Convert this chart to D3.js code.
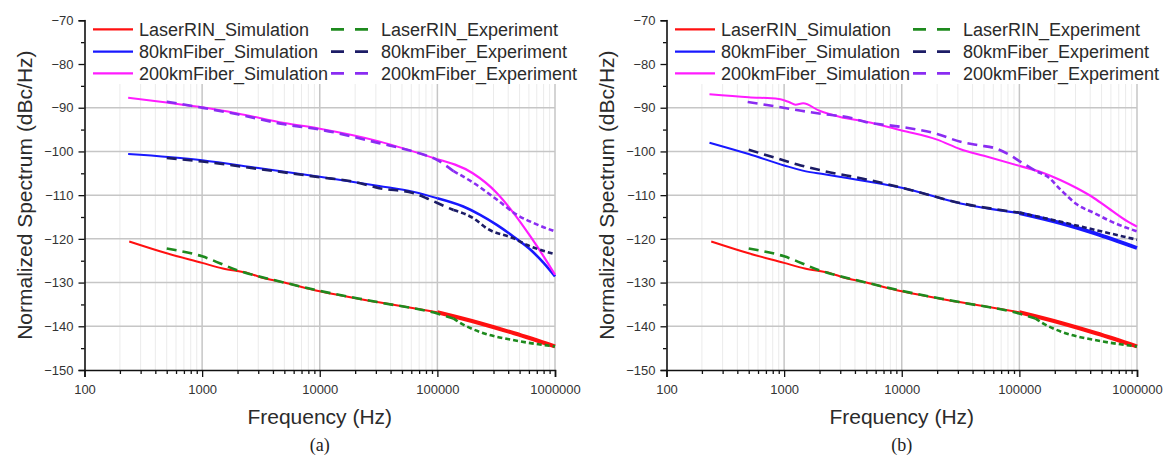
<!DOCTYPE html>
<html>
<head>
<meta charset="utf-8">
<script src="https://d3js.org/d3.v7.min.js"></script>
<style>
  body { margin: 0; background: #fff; }
  svg { display: block; font-family: "Liberation Sans", Arial, sans-serif; }
</style>
</head>
<body>
<div id="chart"></div>
<script>
// tick values
const majorFreqs = [100, 1000, 10000, 100000, 1000000];
const majorLevels = [-150, -140, -130, -120, -110, -100, -90, -80, -70];
const minorLevels = [-145, -135, -125, -115, -105, -95, -85, -75];

// [frequency Hz, dBc/Hz]
const laserSim = [[240, -120.6], [500, -123.3], [1000, -125.5], [1500, -126.8], [2500, -127.9], [3000, -128.6], [5000, -130.0], [10000, -132.0], [30000, -134.4], [100000, -136.8], [230000, -139.3], [450000, -141.6], [1000000, -144.6]];
const laserExp = [[500, -122.2], [1000, -124.0], [2000, -127.2], [5000, -130.0], [10000, -131.9], [30000, -134.4], [100000, -137.1], [137000, -138.2], [156000, -139.2], [230000, -141.3], [450000, -143.2], [1000000, -144.6]];

// panel (a)
const fiber80SimA = [[235, -100.6], [1000, -102.0], [3000, -103.8], [10000, -105.8], [32000, -107.9], [62000, -109.2], [100000, -110.7], [166000, -112.6], [231000, -114.5], [320000, -116.8], [445000, -119.5], [620000, -122.5], [800000, -125.5], [1000000, -128.6]];
const fiber80ExpA = [[500, -101.5], [1000, -102.3], [3000, -104.0], [10000, -105.9], [20000, -107.0], [32000, -108.4], [62000, -109.5], [81000, -110.7], [100000, -111.8], [137000, -113.4], [203000, -115.3], [263000, -117.6], [445000, -119.9], [580000, -121.4], [1000000, -123.5]];
const fiber200SimA = [[235, -87.7], [500, -88.8], [1000, -89.9], [2000, -91.3], [5000, -93.5], [10000, -94.8], [32000, -97.7], [100000, -101.8], [200000, -105.0], [320000, -109.5], [445000, -114.1], [620000, -119.5], [800000, -124.0], [1000000, -128.2]];
const fiber200ExpA = [[500, -88.6], [1000, -90.0], [2000, -91.5], [5000, -93.8], [10000, -95.0], [32000, -98.1], [62000, -100.0], [100000, -102.0], [137000, -104.5], [203000, -107.2], [320000, -111.0], [475000, -114.5], [660000, -116.4], [1000000, -118.3]];

// panel (b)
const fiber80SimB = [[232, -98.0], [500, -100.6], [1000, -103.2], [1500, -104.5], [2200, -105.2], [5000, -106.8], [10000, -108.3], [31600, -111.9], [100000, -114.1], [225000, -116.4], [433000, -118.7], [1000000, -122.1]];
const fiber80ExpB = [[500, -99.6], [850, -101.5], [1300, -103.0], [2200, -104.5], [5000, -106.4], [10000, -108.3], [31600, -111.8], [100000, -114.0], [225000, -116.1], [433000, -117.9], [1000000, -120.2]];
const fiber200SimB = [[232, -86.9], [500, -87.6], [900, -88.0], [1100, -88.7], [1250, -89.3], [1450, -89.0], [2000, -90.7], [3000, -92.1], [5000, -93.2], [10000, -95.2], [20000, -97.3], [31600, -99.5], [50000, -101.0], [100000, -103.3], [162000, -105.0], [225000, -106.6], [312000, -108.5], [433000, -110.7], [600000, -113.4], [830000, -116.0], [1000000, -117.2]];
const fiber200ExpB = [[490, -88.7], [900, -89.8], [1400, -90.7], [2200, -91.5], [3500, -92.2], [5000, -93.3], [10000, -94.4], [20000, -96.0], [31600, -97.8], [45000, -98.6], [61000, -99.2], [84000, -100.9], [100000, -102.2], [143000, -104.7], [174000, -105.8], [225000, -108.8], [312000, -112.2], [433000, -114.1], [600000, -116.0], [1000000, -118.3]];

const seriesNames = ["LaserRIN_Simulation", "80kmFiber_Simulation", "200kmFiber_Simulation",
                     "LaserRIN_Experiment", "80kmFiber_Experiment", "200kmFiber_Experiment"];
const seriesColors = ["#ff1010", "#1818ff", "#ff1cff", "#1e8a1e", "#1c1c66", "#8a2cf2"];

const width = 1167, height = 455;
const svg = d3.select("#chart").append("svg")
    .attr("width", width)
    .attr("height", height);

drawPanel(84.5, "(a)", [laserSim, fiber80SimA, fiber200SimA, laserExp, fiber80ExpA, fiber200ExpA], [4, 2.6, 2.2]);
drawPanel(666.5, "(b)", [laserSim, fiber80SimB, fiber200SimB, laserExp, fiber80ExpB, fiber200ExpB], [4, 3.8, 2.2]);

function drawPanel(left, caption, data, tailWidths) {
    const right = left + 470.5;
    const top = 20.3, bottom = 370;

    const x = d3.scaleLog().domain([100, 1000000]).range([left, right]);
    const y = d3.scaleLinear().domain([-150, -70]).range([bottom, top]);

    const minorFreqs = [];
    majorFreqs.slice(0, -1).forEach(d => {
        for (let k = 2; k <= 9; k++) minorFreqs.push(d * k);
    });

    const g = svg.append("g");

    // grid
    g.append("g").selectAll("line")
        .data(minorFreqs)
        .enter().append("line")
        .attr("x1", d => x(d)).attr("x2", d => x(d))
        .attr("y1", top).attr("y2", bottom)
        .attr("stroke", "#ebebeb").attr("stroke-width", 1);

    g.append("g").selectAll("line")
        .data(majorFreqs.slice(1))
        .enter().append("line")
        .attr("x1", d => x(d)).attr("x2", d => x(d))
        .attr("y1", top).attr("y2", bottom)
        .attr("stroke", "#c6c6c6").attr("stroke-width", 1.5);

    g.append("g").selectAll("line")
        .data(majorLevels.slice(1))
        .enter().append("line")
        .attr("x1", left).attr("x2", right)
        .attr("y1", d => y(d)).attr("y2", d => y(d))
        .attr("stroke", "#c6c6c6").attr("stroke-width", 1.5);

    // curves
    const line = d3.line()
        .x(d => x(d[0]))
        .y(d => y(d[1]))
        .curve(d3.curveMonotoneX);

    data.forEach((pts, i) => {
        const isExp = i >= 3;
        const tailFrom = 150000;
        const head = pts.filter(d => d[0] <= tailFrom);
        const tail = pts.filter((d, j) => d[0] >= tailFrom || (pts[j + 1] && pts[j + 1][0] > tailFrom));

        g.append("path")
            .datum(head)
            .attr("d", line)
            .attr("fill", "none")
            .attr("stroke", seriesColors[i])
            .attr("stroke-width", isExp ? 2.6 : 2)
            .attr("stroke-dasharray", isExp ? "10,6" : null);

        g.append("path")
            .datum(tail)
            .attr("d", line)
            .attr("fill", "none")
            .attr("stroke", seriesColors[i])
            .attr("stroke-width", isExp ? 2.6 : tailWidths[i])
            .attr("stroke-dasharray", isExp ? "5,3" : null);
    });

    // legend box hides the top of the grid
    g.append("rect")
        .attr("x", left + 1).attr("y", top - 6)
        .attr("width", right - left + 2).attr("height", 84 - top + 6)
        .attr("fill", "#fff");

    const rowY = [29.3, 51.7, 73.3];
    seriesNames.forEach((name, i) => {
        const col = Math.floor(i / 3);
        const ly = rowY[i % 3];
        const lx = left + (col === 0 ? 8.5 : 246.5);
        g.append("line")
            .attr("x1", lx).attr("x2", lx + 40)
            .attr("y1", ly).attr("y2", ly)
            .attr("stroke", seriesColors[i])
            .attr("stroke-width", col === 0 ? 2.2 : 2.8)
            .attr("stroke-dasharray", col === 0 ? null : "13,11");
        g.append("text")
            .attr("x", lx + (col === 0 ? 46 : 50))
            .attr("y", ly + 6.5)
            .attr("font-size", "18px")
            .attr("fill", "#2b2b2b")
            .text(name);
    });

    // axes
    const yAxis = g.append("g")
        .attr("transform", `translate(${left},0)`)
        .call(d3.axisLeft(y).tickValues(majorLevels).tickSize(6).tickPadding(5));
    g.append("g")
        .attr("transform", `translate(${left},0)`)
        .call(d3.axisLeft(y).tickValues(minorLevels).tickSize(3.5).tickFormat(""))
        .call(a => a.select(".domain").remove());

    const xAxis = g.append("g")
        .attr("transform", `translate(0,${bottom})`)
        .call(d3.axisBottom(x).tickValues(majorFreqs).tickFormat(d3.format("d")).tickSize(7).tickPadding(8));
    g.append("g")
        .attr("transform", `translate(0,${bottom})`)
        .call(d3.axisBottom(x).tickValues(minorFreqs).tickSize(4).tickFormat(""))
        .call(a => a.select(".domain").remove());

    g.selectAll(".domain").attr("stroke", "#111").attr("stroke-width", 1.6);
    g.selectAll(".tick line").attr("stroke", "#111").attr("stroke-width", 1.3);
    [yAxis, xAxis].forEach(a => a.selectAll("text")
        .attr("font-size", "13px")
        .attr("fill", "#333")
        .attr("font-family", "'Liberation Sans', Arial, sans-serif"));

    // titles
    const cx = (left + right) / 2;
    g.append("text")
        .attr("x", cx).attr("y", 424)
        .attr("text-anchor", "middle")
        .attr("font-size", "21px")
        .attr("fill", "#2b2b2b")
        .text("Frequency (Hz)");

    g.append("text")
        .attr("transform", `translate(${left - 52.5},${(top + bottom) / 2}) rotate(-90)`)
        .attr("text-anchor", "middle")
        .attr("font-size", "21px")
        .attr("fill", "#2b2b2b")
        .text("Normalized Spectrum (dBc/Hz)");

    g.append("text")
        .attr("x", cx).attr("y", 451)
        .attr("text-anchor", "middle")
        .attr("font-size", "18px")
        .attr("font-family", "'Liberation Serif', 'Times New Roman', serif")
        .attr("fill", "#222")
        .text(caption);
}
</script>
</body>
</html>
